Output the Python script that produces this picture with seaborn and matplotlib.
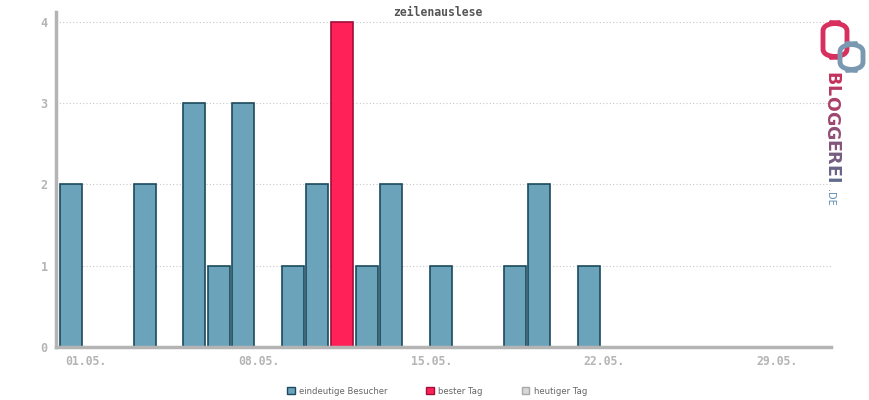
import numpy as np
import pandas as pd
import seaborn as sns
import matplotlib.pyplot as plt
from matplotlib.patches import Patch, FancyBboxPatch

# data: unique visitors per day in May
days = list(range(1, 32))
visitors = [2, 0, 0, 2, 0, 3, 1, 3, 0, 1, 2, 4, 1, 2, 0, 1, 0, 0, 1, 2, 0, 1,
            0, 0, 0, 0, 0, 0, 0, 0, 0]
tick_days = [1, 8, 15, 22, 29]
tick_labels = ["01.05.", "08.05.", "15.05.", "22.05.", "29.05."]
title = "zeilenauslese"
legend_labels = ["eindeutige Besucher", "bester Tag", "heutiger Tag"]

BLUE, BLUE_EDGE = "#6ba3bb", "#1b4a5c"
RED, RED_EDGE = "#ff2157", "#a0103a"
GREY = "#b4b4b4"

sns.set_theme(style="white")
plt.rcParams["font.family"] = ["DejaVu Sans Mono", "DejaVu Sans"]

df = pd.DataFrame({"day": days, "visitors": visitors})
best = max(visitors)
df["kind"] = np.where(df["visitors"] == best, "best", "visitor")

fig = plt.figure(figsize=(8.7, 4), dpi=100)
ax = fig.add_axes([56 / 870, 53 / 400, 775 / 870, 335 / 400])

sns.barplot(data=df, x="day", y="visitors", hue="kind", native_scale=True,
            dodge=False, width=0.89, palette={"visitor": BLUE, "best": RED},
            saturation=1, legend=False, ax=ax, zorder=2)
for p in ax.patches:
    fc = p.get_facecolor()
    is_red = fc[0] > 0.9
    p.set_edgecolor(RED_EDGE if is_red else BLUE_EDGE)
    p.set_linewidth(1.2)

ax.set_xlim(0.404, 31.82)
ax.set_ylim(0, 4.12)
ax.set_yticks([0, 1, 2, 3, 4])
ax.set_yticklabels(["0", "1", "2", "3", "4"])
# small day ticks; labels sit a bit right of their day tick
ax.set_xticks(days, minor=True)
ax.set_xticks([d + 0.62 for d in tick_days])
ax.set_xticklabels(tick_labels)

for y in [1, 2, 3, 4]:
    ax.axhline(y, color="#c8c8c8", lw=0.8, ls=(0, (1, 2)), zorder=1)

ax.set_xlabel("")
ax.set_ylabel("")
for s in ["top", "right"]:
    ax.spines[s].set_visible(False)
for s in ["left", "bottom"]:
    ax.spines[s].set_color(GREY)
    ax.spines[s].set_linewidth(2.5)
    ax.spines[s].set_zorder(3)

ax.tick_params(axis="x", which="minor", direction="in", length=4, width=1,
               color=GREY)
ax.tick_params(axis="x", which="major", length=0, labelcolor=GREY,
               labelsize=8.3, pad=6)
ax.tick_params(axis="y", direction="out", length=3, width=1, color=GREY,
               labelcolor=GREY, labelsize=8.5, pad=3)
for lbl in ax.get_xticklabels() + ax.get_yticklabels():
    lbl.set_fontweight("bold")

fig.text(438 / 870, 1 - 12 / 400, title, ha="center", va="center",
         fontsize=8.3, fontweight="bold", color="#555555")

# legend
handles = [Patch(facecolor=BLUE, edgecolor=BLUE_EDGE, lw=1),
           Patch(facecolor=RED, edgecolor=RED_EDGE, lw=1),
           Patch(facecolor="#d8d8d8", edgecolor="#a8a8a8", lw=1)]
leg = fig.legend(handles, legend_labels, loc="center", ncol=3, frameon=False,
                 bbox_to_anchor=(437 / 870, 1 - 391 / 400),
                 handlelength=0.9, handleheight=0.9, handletextpad=0.5,
                 columnspacing=4.6, prop={"family": "DejaVu Sans", "size": 6.1})
for t in leg.get_texts():
    t.set_color("#666666")

# logo
fig.patches.append(FancyBboxPatch((823 / 870, 1 - 57 / 400), 24 / 870, 34 / 400,
                                  boxstyle="round,pad=0,rounding_size=0.02",
                                  transform=fig.transFigure, fill=False,
                                  edgecolor="#d8305e", lw=3.5))
fig.patches.append(FancyBboxPatch((840 / 870, 1 - 70 / 400), 23 / 870, 26 / 400,
                                  boxstyle="round,pad=0,rounding_size=0.02",
                                  transform=fig.transFigure, fill=False,
                                  edgecolor="#7a98b0", lw=3.5))
letters = "BLOGGEREI"
advance = [0.762, 0.637, 0.85, 0.821, 0.821, 0.683, 0.77, 0.683, 0.372]
logo_size = 12.5
em = logo_size * 100 / 72
cols = sns.blend_palette(["#c4325c", "#5d6a8c"], len(letters))
ypos = 72.0
for ch, w, c in zip(letters, advance, cols):
    fig.text(831 / 870, 1 - (ypos + w * em / 2) / 400, ch, rotation=-90,
             ha="center", va="center", fontsize=logo_size, fontweight="bold",
             color=c, family="DejaVu Sans")
    ypos += w * em
fig.text(830 / 870, 1 - (ypos + 14) / 400, ".DE", rotation=-90, ha="center",
         va="center", fontsize=7, color="#5b8db3", family="DejaVu Sans")

fig.savefig("out.png", dpi=100)
